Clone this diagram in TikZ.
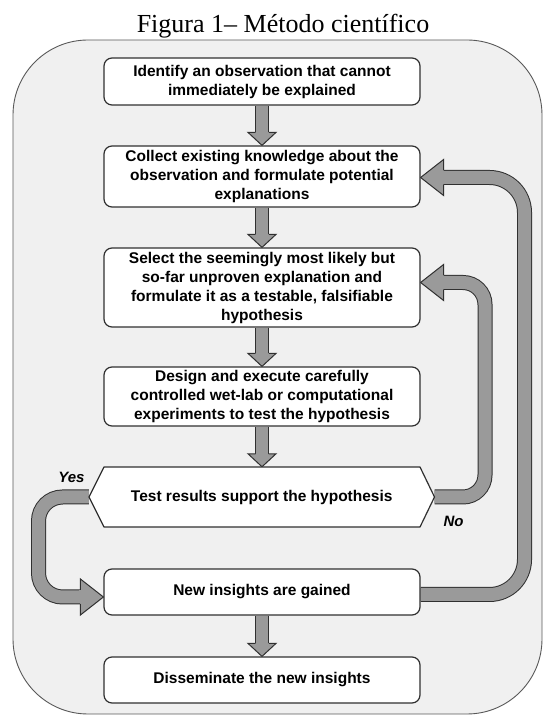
\documentclass[tikz,border=0pt]{standalone}
\usepackage{fontspec}
\setmainfont{Liberation Serif}
\newfontfamily\boxfont{Liberation Sans}
\usetikzlibrary{calc}
\pgfdeclarelayer{back}
\pgfdeclarelayer{mid}
\pgfsetlayers{back,mid,main}
\definecolor{arrowgray}{HTML}{9A9A9A}
\definecolor{edge}{HTML}{303030}
\definecolor{panel}{HTML}{F0F0F0}
\begin{document}
\begin{tikzpicture}[x=1pt,y=1pt,
  stepbox/.style={draw=edge, line width=1.2pt, fill=white, rounded corners=8pt,
    minimum width=316pt, inner sep=0pt, align=center,
    font=\boxfont\bfseries\fontsize{15.5}{19}\selectfont},
  shaft/.style={draw=edge, line width=1pt, double=arrowgray, double distance=12pt},
  bigshaft/.style={draw=edge, line width=1pt, double=arrowgray, double distance=13pt},
  smallhead/.pic={
    \fill[arrowgray] (-13,-14) -- (0,0) -- (-13,14) -- cycle;
    \fill[arrowgray] (-14.5,-6) rectangle (-12,6);
    \draw[edge, line width=1pt, line join=miter] (-13,-6.5) -- (-13,-14) -- (0,0) -- (-13,14) -- (-13,6.5);
  },
  bighead/.pic={
    \fill[arrowgray] (-23,-18) -- (0,0) -- (-23,18) -- cycle;
    \fill[arrowgray] (-24.5,-6.5) rectangle (-22,6.5);
    \draw[edge, line width=1pt, line join=miter] (-23,-7) -- (-23,-18) -- (0,0) -- (-23,18) -- (-23,7);
  },
  lab/.style={font=\boxfont\bfseries\itshape\fontsize{15}{18}\selectfont, inner sep=0pt},
  hexlabel/.style={minimum width=345.5pt, minimum height=60pt, inner sep=0pt,
    font=\boxfont\bfseries\fontsize{15.5}{19}\selectfont}
]
\useasboundingbox (0,0) rectangle (543,715);

% page and outer panel
\begin{pgfonlayer}{back}
\fill[white] (0,0) rectangle (543,715);
\draw[draw=edge!80, line width=0.9pt, fill=panel, rounded corners=75pt] (13,1) rectangle (542,675);
\end{pgfonlayer}

% title
\node[font=\fontsize{26}{30}\selectfont, anchor=base, inner sep=0pt] (title) at (283,682) {Figura 1– Método científico};

% boxes
\node[stepbox, minimum height=47pt] (b1) at (262,633.5) {Identify an observation that cannot\\immediately be explained};
\node[stepbox, minimum height=61pt] (b2) at (262,538.5) {Collect existing knowledge about the\\observation and formulate potential\\explanations};
\node[stepbox, minimum height=79pt] (b3) at (262,427.5) {Select the seemingly most likely but\\so-far unproven explanation and\\formulate it as a testable, falsifiable\\hypothesis};
\node[stepbox, minimum height=59pt] (b4) at (262,318.5) {Design and execute carefully\\controlled wet-lab or computational\\experiments to test the hypothesis};
\draw[draw=edge, line width=1.2pt, fill=white, line join=round] (89,218) -- (104,248) -- (420,248) -- (434.5,218) -- (420,188) -- (104,188) -- cycle;
\node[hexlabel] (hex) at (261.75,218) {Test results support the hypothesis};
\node[stepbox, minimum height=46pt] (b5) at (262,123) {New insights are gained};
\node[stepbox, minimum height=46pt] (b6) at (262,35) {Disseminate the new insights};

% labels
\node[lab] (yes) at (71.5,237.5) {Yes};
\node[lab] (no) at (453.5,193.5) {No};

% connector helper coordinates
\coordinate (yesX) at (38.5,0);
\coordinate (noX) at (485,0);
\coordinate (bigX) at (524.5,0);
\coordinate (yesTip) at ($(b5.west)+(0,-5)$);
\coordinate (noTip) at ($(b3.east)+(0,5)$);
\coordinate (bigTip) at ($(b2.east)+(0,-1)$);
\coordinate (bigStart) at ($(b5.east)+(0,-2.5)$);

\begin{pgfonlayer}{mid}
% straight down arrows
\draw[shaft] (b1.south) -- ($(b2.north)+(0,13)$);
\pic[rotate=-90] at (b2.north) {smallhead};
\draw[shaft] (b2.south) -- ($(b3.north)+(0,13)$);
\pic[rotate=-90] at (b3.north) {smallhead};
\draw[shaft] (b3.south) -- ($(b4.north)+(0,13)$);
\pic[rotate=-90] at (b4.north) {smallhead};
\draw[shaft] (b4.south) -- ($(b4.south |- hex.north)+(0,13)$);
\pic[rotate=-90] at (b4.south |- hex.north) {smallhead};
\draw[shaft] (b5.south) -- ($(b6.north)+(0,13)$);
\pic[rotate=-90] at (b6.north) {smallhead};

% Yes
\draw[bigshaft, rounded corners=24pt] (hex.west) -- (hex.west -| yesX) -- (yesX |- yesTip) -- ($(yesTip)+(-23,0)$);
\pic at (yesTip) {bighead};
% No
\draw[bigshaft, rounded corners=22pt] (hex.east) -- (hex.east -| noX) -- (noX |- noTip) -- ($(noTip)+(23,0)$);
\pic[rotate=180] at (noTip) {bighead};
% new insights back to knowledge
\draw[bigshaft, rounded corners=35pt] (bigStart) -- (bigStart -| bigX) -- (bigX |- bigTip) -- ($(bigTip)+(23,0)$);
\pic[rotate=180] at (bigTip) {bighead};
\end{pgfonlayer}
\end{tikzpicture}
\end{document}
